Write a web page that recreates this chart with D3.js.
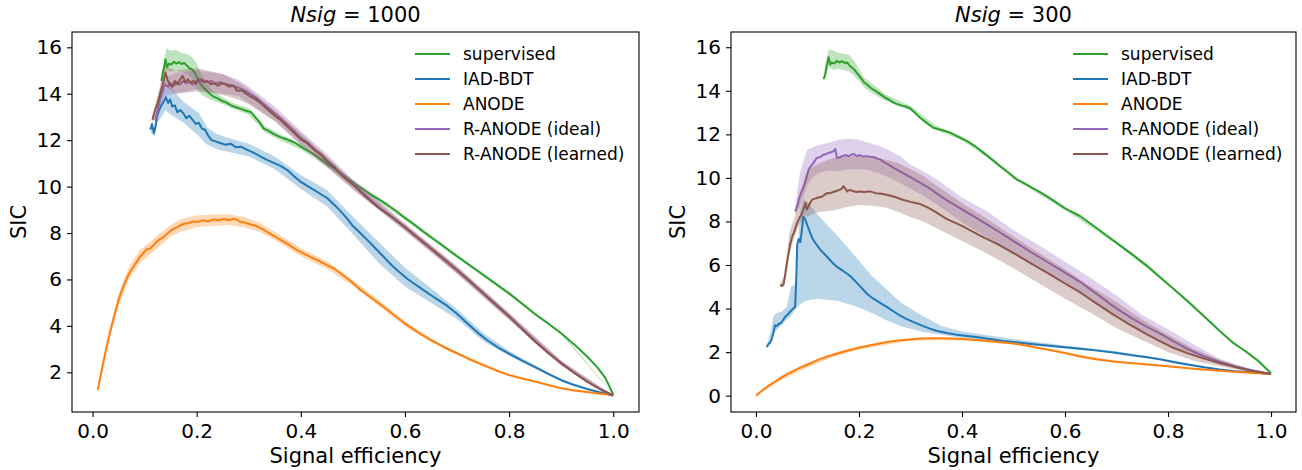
<!DOCTYPE html>
<html>
<head>
<meta charset="utf-8">
<script src="https://cdn.jsdelivr.net/npm/d3@7"></script>
<style>
  body { margin: 0; background: #fff; }
  svg { display: block; font-family: "DejaVu Sans", sans-serif; }
</style>
</head>
<body>
<div id="chart"></div>
<script>
// ---- data ----
var seriesNames = ["supervised", "IAD-BDT", "ANODE", "R-ANODE (ideal)", "R-ANODE (learned)"];
var seriesColors = ["#2ca02c", "#1f77b4", "#ff7f0e", "#9467bd", "#8c564b"];
var xTicks = [0, 0.2, 0.4, 0.6, 0.8, 1.0];
var yTicksLeft = [2, 4, 6, 8, 10, 12, 14, 16];
var yTicksRight = [0, 2, 4, 6, 8, 10, 12, 14, 16];
var titles = ["1000", "300"];

// Nsig = 1000 : lines [x, SIC], bands [x, low, high]
var supLine1000 = [[0.132,14.55],[0.135,14.9],[0.138,15.2],[0.140,15.49],[0.143,15.15],[0.147,15.3],[0.151,15.25],[0.156,15.38],[0.161,15.3],[0.166,15.36],[0.171,15.28],[0.176,15.33],[0.181,15.22],[0.186,15.1],[0.191,15.05],[0.196,14.92],[0.201,14.7],[0.206,14.45],[0.212,14.3],[0.218,14.15],[0.225,14.0],[0.232,13.88],[0.240,13.8],[0.248,13.7],[0.257,13.62],[0.266,13.5],[0.275,13.42],[0.285,13.35],[0.295,13.27],[0.305,13.2],[0.312,13.0],[0.320,12.8],[0.329,12.5],[0.338,12.4],[0.349,12.25],[0.362,12.12],[0.375,12.02],[0.388,11.9],[0.400,11.72],[0.413,11.55],[0.426,11.38],[0.440,11.15],[0.452,10.95],[0.465,10.78],[0.478,10.55],[0.490,10.35],[0.505,10.1],[0.520,9.88],[0.535,9.65],[0.550,9.45],[0.566,9.22],[0.583,8.95],[0.600,8.65],[0.617,8.38],[0.633,8.1],[0.650,7.82],[0.667,7.55],[0.683,7.28],[0.700,7.0],[0.725,6.6],[0.750,6.2],[0.775,5.8],[0.800,5.4],[0.825,4.95],[0.850,4.5],[0.875,4.1],[0.900,3.68],[0.925,3.2],[0.950,2.68],[0.970,2.2],[0.985,1.75],[1.000,1.05]];
var supBand1000 = [[0.132,14.35,14.75],[0.138,14.8,15.5],[0.142,15.0,15.95],[0.15,14.95,15.85],[0.16,15.0,15.9],[0.17,14.95,15.75],[0.18,14.9,15.72],[0.19,14.7,15.6],[0.2,14.2,15.3],[0.21,13.95,14.8],[0.222,13.8,14.35],[0.235,13.68,14.05],[0.25,13.55,13.85],[0.27,13.35,13.6],[0.3,13.1,13.38],[0.33,12.35,12.62],[0.36,12.0,12.25],[0.4,11.6,11.84],[0.5,10.1,10.3],[0.6,8.56,8.74],[0.7,6.92,7.08],[0.8,5.33,5.47],[0.9,3.63,3.73],[1.0,1.03,1.07]];
var bdtLine1000 = [[0.111,12.45],[0.114,12.7],[0.118,12.3],[0.121,12.6],[0.124,13.03],[0.128,13.3],[0.132,13.5],[0.137,13.68],[0.141,13.85],[0.145,13.6],[0.149,13.75],[0.153,13.45],[0.158,13.5],[0.163,13.2],[0.168,13.3],[0.174,13.17],[0.18,12.95],[0.186,13.05],[0.192,12.88],[0.198,12.7],[0.204,12.75],[0.21,12.5],[0.216,12.45],[0.222,12.2],[0.228,12.01],[0.236,11.95],[0.245,11.88],[0.255,11.8],[0.265,11.85],[0.275,11.7],[0.285,11.72],[0.297,11.58],[0.31,11.45],[0.322,11.3],[0.336,11.14],[0.35,11.0],[0.362,10.88],[0.374,10.71],[0.387,10.45],[0.4,10.2],[0.413,10.02],[0.426,9.85],[0.44,9.65],[0.451,9.5],[0.465,9.2],[0.478,8.9],[0.489,8.62],[0.5,8.3],[0.515,7.98],[0.53,7.65],[0.545,7.3],[0.56,6.95],[0.575,6.6],[0.59,6.3],[0.605,6.02],[0.62,5.78],[0.635,5.55],[0.65,5.32],[0.665,5.1],[0.68,4.88],[0.7,4.52],[0.72,4.1],[0.74,3.7],[0.76,3.35],[0.78,3.05],[0.8,2.8],[0.825,2.5],[0.85,2.22],[0.875,1.93],[0.9,1.66],[0.925,1.45],[0.95,1.28],[0.975,1.13],[1.0,1.0]];
var bdtBand1000 = [[0.111,12.35,12.55],[0.118,12.15,12.5],[0.124,12.75,13.3],[0.132,13.0,13.95],[0.14,13.3,14.25],[0.15,13.1,14.3],[0.16,12.95,14.0],[0.175,12.75,13.65],[0.19,12.45,13.4],[0.205,12.15,13.15],[0.22,11.8,12.55],[0.24,11.6,12.25],[0.26,11.5,12.1],[0.3,11.3,11.85],[0.35,10.75,11.3],[0.4,9.9,10.5],[0.45,9.15,9.85],[0.5,7.95,8.7],[0.55,6.7,7.6],[0.6,5.7,6.5],[0.65,5.0,5.62],[0.7,4.3,4.72],[0.75,3.35,3.7],[0.8,2.7,2.92],[0.85,2.15,2.3],[0.9,1.62,1.72],[0.95,1.26,1.31],[1.0,1.0,1.0]];
var anodeLine1000 = [[0.01,1.24],[0.015,1.8],[0.02,2.35],[0.025,2.9],[0.03,3.39],[0.035,3.85],[0.04,4.3],[0.045,4.72],[0.05,5.12],[0.056,5.5],[0.062,5.85],[0.068,6.15],[0.074,6.4],[0.08,6.6],[0.086,6.8],[0.092,7.0],[0.098,7.15],[0.104,7.3],[0.11,7.32],[0.116,7.45],[0.122,7.6],[0.128,7.72],[0.135,7.8],[0.142,7.95],[0.15,8.1],[0.158,8.2],[0.166,8.3],[0.175,8.4],[0.184,8.42],[0.193,8.5],[0.202,8.48],[0.212,8.55],[0.222,8.5],[0.232,8.58],[0.242,8.55],[0.252,8.6],[0.262,8.55],[0.272,8.62],[0.282,8.5],[0.292,8.45],[0.302,8.38],[0.315,8.3],[0.33,8.12],[0.345,7.92],[0.36,7.72],[0.375,7.52],[0.39,7.3],[0.405,7.12],[0.42,6.95],[0.435,6.8],[0.45,6.62],[0.465,6.45],[0.48,6.2],[0.496,5.92],[0.515,5.55],[0.53,5.3],[0.545,5.05],[0.56,4.8],[0.58,4.45],[0.6,4.1],[0.625,3.72],[0.65,3.39],[0.675,3.08],[0.7,2.82],[0.725,2.55],[0.75,2.31],[0.775,2.08],[0.8,1.88],[0.825,1.73],[0.85,1.6],[0.875,1.45],[0.9,1.31],[0.925,1.22],[0.95,1.15],[0.975,1.08],[1.0,1.02]];
var anodeBand1000 = [[0.01,1.15,1.33],[0.03,3.2,3.6],[0.05,4.85,5.4],[0.07,6.0,6.55],[0.09,6.7,7.25],[0.11,7.05,7.6],[0.13,7.45,8.0],[0.15,7.85,8.35],[0.17,8.05,8.6],[0.2,8.25,8.75],[0.23,8.3,8.8],[0.26,8.35,8.8],[0.29,8.25,8.7],[0.32,8.05,8.45],[0.35,7.7,8.05],[0.4,7.0,7.35],[0.45,6.45,6.78],[0.5,5.72,5.98],[0.55,4.85,5.1],[0.6,4.0,4.2],[0.65,3.31,3.47],[0.7,2.76,2.88],[0.8,1.84,1.92],[0.9,1.29,1.33],[1.0,1.01,1.03]];
var idealLine1000 = [[0.12,12.85],[0.124,13.2],[0.128,13.6],[0.132,13.95],[0.136,14.2],[0.14,14.4],[0.145,14.3],[0.15,14.45],[0.156,14.35],[0.162,14.5],[0.168,14.4],[0.174,14.55],[0.18,14.45],[0.186,14.5],[0.192,14.4],[0.198,14.55],[0.205,14.48],[0.212,14.6],[0.22,14.5],[0.228,14.55],[0.236,14.45],[0.245,14.5],[0.255,14.42],[0.265,14.38],[0.275,14.3],[0.285,14.22],[0.295,14.1],[0.305,13.95],[0.315,13.82],[0.326,13.6],[0.338,13.38],[0.35,13.15],[0.362,12.92],[0.374,12.68],[0.387,12.4],[0.4,12.1],[0.413,11.9],[0.426,11.62],[0.44,11.38],[0.451,11.12],[0.465,10.85],[0.478,10.55],[0.489,10.32],[0.505,10.02],[0.528,9.55],[0.55,9.12],[0.575,8.7],[0.6,8.25],[0.625,7.78],[0.65,7.32],[0.675,6.85],[0.7,6.4],[0.725,5.9],[0.75,5.42],[0.775,4.92],[0.8,4.42],[0.825,3.88],[0.85,3.35],[0.875,2.85],[0.9,2.4],[0.925,1.98],[0.95,1.6],[0.975,1.27],[1.0,1.0]];
var idealBand1000 = [[0.12,12.6,13.0],[0.13,13.4,14.05],[0.14,13.9,14.7],[0.16,14.0,14.9],[0.18,14.1,14.95],[0.2,14.2,15.0],[0.22,14.1,14.95],[0.25,14.0,14.85],[0.28,13.9,14.6],[0.3,13.6,14.3],[0.35,12.85,13.45],[0.4,11.8,12.4],[0.45,10.85,11.4],[0.5,9.9,10.3],[0.6,8.1,8.4],[0.7,6.25,6.55],[0.8,4.28,4.56],[0.9,2.3,2.5],[1.0,1.0,1.0]];
var learnedLine1000 = [[0.115,12.88],[0.12,13.3],[0.125,13.6],[0.131,14.12],[0.136,14.5],[0.14,14.91],[0.144,14.6],[0.148,14.41],[0.153,14.3],[0.158,14.55],[0.163,14.4],[0.168,14.6],[0.173,14.77],[0.178,14.5],[0.183,14.62],[0.188,14.48],[0.193,14.55],[0.198,14.42],[0.203,14.6],[0.208,14.62],[0.214,14.5],[0.22,14.55],[0.227,14.41],[0.234,14.45],[0.241,14.35],[0.248,14.45],[0.255,14.41],[0.262,14.3],[0.27,14.35],[0.278,14.12],[0.286,14.15],[0.295,14.0],[0.303,13.88],[0.31,13.8],[0.32,13.65],[0.336,13.32],[0.35,13.05],[0.362,12.85],[0.374,12.59],[0.387,12.32],[0.4,12.03],[0.413,11.85],[0.426,11.58],[0.44,11.33],[0.451,11.07],[0.465,10.8],[0.478,10.5],[0.489,10.28],[0.505,9.98],[0.528,9.5],[0.55,9.08],[0.575,8.68],[0.6,8.25],[0.625,7.8],[0.65,7.34],[0.675,6.88],[0.7,6.41],[0.725,5.92],[0.75,5.4],[0.775,4.9],[0.8,4.4],[0.825,3.86],[0.85,3.32],[0.875,2.83],[0.9,2.39],[0.925,1.97],[0.95,1.6],[0.975,1.27],[1.0,1.0]];
var learnedBand1000 = [[0.115,12.7,13.05],[0.13,13.7,14.4],[0.14,14.3,15.2],[0.16,14.0,15.0],[0.18,14.05,15.05],[0.2,14.1,15.1],[0.22,14.05,15.0],[0.25,13.95,14.85],[0.28,13.75,14.5],[0.3,13.55,14.2],[0.35,12.8,13.3],[0.4,11.8,12.3],[0.45,10.85,11.3],[0.5,9.88,10.25],[0.6,8.1,8.4],[0.7,6.25,6.58],[0.8,4.25,4.55],[0.9,2.28,2.5],[1.0,1.0,1.0]];

// Nsig = 300
var supLine300 = [[0.131,14.54],[0.134,14.7],[0.137,15.1],[0.141,15.54],[0.144,15.2],[0.147,15.3],[0.152,15.25],[0.157,15.38],[0.162,15.3],[0.167,15.36],[0.172,15.28],[0.177,15.3],[0.182,15.15],[0.187,15.05],[0.19,15.0],[0.195,14.85],[0.2,14.7],[0.205,14.55],[0.21,14.38],[0.215,14.3],[0.222,14.15],[0.228,14.05],[0.235,13.95],[0.241,13.85],[0.25,13.7],[0.258,13.6],[0.267,13.46],[0.275,13.38],[0.283,13.32],[0.291,13.28],[0.299,13.2],[0.308,13.0],[0.318,12.77],[0.33,12.55],[0.344,12.3],[0.36,12.2],[0.377,12.08],[0.393,11.88],[0.41,11.69],[0.426,11.45],[0.442,11.15],[0.458,10.85],[0.474,10.54],[0.49,10.25],[0.507,9.92],[0.525,9.7],[0.54,9.5],[0.555,9.3],[0.572,9.05],[0.6,8.6],[0.629,8.25],[0.66,7.72],[0.694,7.12],[0.73,6.5],[0.76,5.95],[0.784,5.45],[0.81,4.92],[0.84,4.3],[0.87,3.65],[0.9,2.98],[0.925,2.45],[0.95,2.05],[0.975,1.6],[1.0,1.03]];
var supBand300 = [[0.131,14.4,14.7],[0.137,14.8,15.5],[0.141,15.1,15.9],[0.15,14.95,15.85],[0.16,15.0,15.75],[0.17,14.95,15.7],[0.18,14.9,15.65],[0.19,14.7,15.4],[0.2,14.45,15.0],[0.21,14.15,14.6],[0.225,13.9,14.35],[0.25,13.55,13.85],[0.3,13.1,13.3],[0.35,12.2,12.4],[0.4,11.72,11.9],[0.45,10.92,11.08],[0.5,9.95,10.1],[0.6,8.53,8.67],[0.7,6.96,7.08],[0.8,5.07,5.17],[0.9,2.94,3.02],[1.0,1.02,1.04]];
var bdtLine300 = [[0.021,2.23],[0.025,2.4],[0.028,2.45],[0.031,2.62],[0.034,2.9],[0.037,3.23],[0.041,3.2],[0.044,3.3],[0.047,3.31],[0.052,3.45],[0.056,3.6],[0.06,3.69],[0.065,3.82],[0.07,3.95],[0.076,4.08],[0.078,5.2],[0.08,6.92],[0.083,7.2],[0.086,7.05],[0.088,7.4],[0.09,7.8],[0.092,8.23],[0.096,8.08],[0.1,7.8],[0.105,7.5],[0.11,7.2],[0.118,6.92],[0.125,6.7],[0.131,6.55],[0.138,6.38],[0.148,6.12],[0.158,5.9],[0.168,5.75],[0.177,5.6],[0.185,5.45],[0.195,5.2],[0.205,4.95],[0.215,4.69],[0.225,4.5],[0.235,4.35],[0.245,4.2],[0.254,4.08],[0.265,3.9],[0.275,3.75],[0.29,3.55],[0.306,3.38],[0.319,3.25],[0.335,3.1],[0.35,2.98],[0.37,2.88],[0.39,2.8],[0.41,2.74],[0.435,2.67],[0.46,2.58],[0.48,2.51],[0.5,2.46],[0.53,2.38],[0.565,2.3],[0.6,2.22],[0.63,2.15],[0.66,2.08],[0.694,1.98],[0.73,1.86],[0.76,1.76],[0.784,1.67],[0.81,1.55],[0.84,1.42],[0.87,1.3],[0.9,1.2],[0.93,1.12],[0.96,1.07],[1.0,1.0]];
var bdtBand300 = [[0.021,2.18,2.28],[0.028,2.4,2.9],[0.034,2.8,3.65],[0.04,3.0,3.8],[0.05,3.25,3.85],[0.06,3.5,4.1],[0.068,3.65,5.0],[0.076,3.95,5.1],[0.08,4.05,6.5],[0.086,4.2,8.5],[0.092,4.3,9.0],[0.1,4.38,8.9],[0.12,4.45,8.3],[0.16,4.35,7.3],[0.2,4.05,6.2],[0.225,3.8,5.5],[0.25,3.5,4.95],[0.28,3.2,4.3],[0.32,2.95,3.7],[0.36,2.8,3.2],[0.4,2.65,2.95],[0.45,2.52,2.78],[0.5,2.4,2.6],[0.6,2.17,2.3],[0.7,1.94,2.04],[0.8,1.58,1.66],[0.9,1.18,1.23],[1.0,1.0,1.0]];
var anodeLine300 = [[0.0,0.0],[0.01,0.2],[0.02,0.38],[0.03,0.54],[0.045,0.76],[0.06,0.98],[0.08,1.22],[0.1,1.42],[0.125,1.69],[0.15,1.88],[0.175,2.05],[0.2,2.2],[0.225,2.33],[0.254,2.46],[0.28,2.54],[0.3,2.58],[0.319,2.62],[0.338,2.64],[0.36,2.64],[0.38,2.62],[0.4,2.6],[0.435,2.55],[0.47,2.47],[0.5,2.4],[0.532,2.27],[0.565,2.12],[0.6,1.96],[0.629,1.8],[0.66,1.67],[0.694,1.57],[0.726,1.5],[0.76,1.43],[0.8,1.35],[0.85,1.24],[0.9,1.14],[0.95,1.06],[1.0,1.0]];
var anodeBand300 = [[0.0,0.0,0.0],[0.05,0.72,0.95],[0.1,1.3,1.52],[0.15,1.78,1.97],[0.2,2.12,2.28],[0.3,2.52,2.64],[0.4,2.55,2.65],[0.5,2.36,2.44],[0.6,1.92,2.0],[0.7,1.53,1.59],[0.8,1.33,1.37],[0.9,1.13,1.15],[1.0,1.0,1.0]];
var idealLine300 = [[0.076,8.46],[0.08,8.7],[0.083,9.0],[0.087,9.3],[0.091,9.5],[0.095,9.75],[0.098,10.0],[0.102,10.38],[0.107,10.55],[0.112,10.7],[0.118,10.92],[0.124,10.95],[0.13,11.05],[0.136,11.1],[0.142,11.15],[0.148,11.2],[0.151,11.23],[0.154,11.34],[0.157,10.92],[0.162,10.95],[0.168,11.0],[0.174,11.05],[0.18,11.0],[0.186,11.08],[0.19,11.1],[0.196,11.0],[0.202,11.05],[0.208,10.98],[0.215,11.0],[0.222,10.97],[0.23,10.95],[0.236,10.88],[0.241,10.85],[0.25,10.7],[0.258,10.6],[0.267,10.46],[0.28,10.3],[0.293,10.12],[0.306,9.95],[0.319,9.77],[0.335,9.55],[0.35,9.3],[0.37,8.98],[0.4,8.55],[0.435,8.06],[0.47,7.55],[0.5,7.1],[0.532,6.62],[0.565,6.15],[0.6,5.65],[0.629,5.23],[0.66,4.7],[0.694,4.1],[0.73,3.55],[0.76,3.15],[0.784,2.86],[0.81,2.5],[0.84,2.12],[0.87,1.8],[0.9,1.56],[0.93,1.35],[0.96,1.18],[1.0,1.0]];
var idealBand300 = [[0.076,8.3,8.7],[0.085,8.7,10.2],[0.095,9.3,11.0],[0.1,9.7,11.3],[0.11,10.0,11.4],[0.12,10.2,11.5],[0.14,10.35,11.6],[0.16,10.3,11.75],[0.18,10.4,11.8],[0.2,10.4,11.75],[0.22,10.35,11.6],[0.24,10.2,11.45],[0.26,10.0,11.25],[0.28,9.75,11.0],[0.3,9.5,10.6],[0.32,9.25,10.38],[0.35,8.8,9.95],[0.4,7.95,9.1],[0.45,7.25,8.45],[0.5,6.55,7.6],[0.55,5.85,6.9],[0.6,5.1,6.15],[0.65,4.4,5.4],[0.7,3.65,4.6],[0.75,2.9,3.7],[0.8,2.35,3.05],[0.85,1.85,2.35],[0.9,1.42,1.7],[0.95,1.17,1.3],[1.0,1.0,1.0]];
var learnedLine300 = [[0.047,5.08],[0.051,5.05],[0.054,5.15],[0.057,5.6],[0.06,6.08],[0.063,6.5],[0.066,6.9],[0.07,7.3],[0.074,7.5],[0.078,7.8],[0.082,8.05],[0.086,8.23],[0.09,8.4],[0.093,8.6],[0.096,8.85],[0.099,8.54],[0.104,8.8],[0.109,9.0],[0.115,9.05],[0.12,9.1],[0.126,9.12],[0.132,9.2],[0.138,9.31],[0.144,9.3],[0.15,9.35],[0.156,9.4],[0.162,9.45],[0.166,9.5],[0.17,9.62],[0.174,9.5],[0.177,9.38],[0.182,9.45],[0.188,9.4],[0.195,9.35],[0.202,9.38],[0.21,9.35],[0.222,9.38],[0.232,9.3],[0.241,9.28],[0.254,9.23],[0.27,9.12],[0.285,9.0],[0.3,8.9],[0.319,8.8],[0.335,8.62],[0.35,8.42],[0.37,8.12],[0.4,7.8],[0.435,7.35],[0.47,6.95],[0.5,6.55],[0.532,6.1],[0.565,5.65],[0.6,5.15],[0.629,4.75],[0.66,4.25],[0.694,3.72],[0.73,3.2],[0.76,2.8],[0.784,2.5],[0.81,2.2],[0.84,1.93],[0.87,1.7],[0.9,1.5],[0.93,1.32],[0.96,1.16],[1.0,1.0]];
var learnedBand300 = [[0.047,4.98,5.18],[0.055,5.0,5.5],[0.065,6.5,7.5],[0.075,7.3,8.2],[0.085,7.9,9.2],[0.095,8.3,10.1],[0.1,8.2,10.3],[0.11,8.35,10.5],[0.125,8.45,10.7],[0.15,8.5,10.9],[0.175,8.65,11.0],[0.2,8.75,11.0],[0.225,8.72,10.95],[0.25,8.65,10.85],[0.275,8.45,10.7],[0.3,8.2,10.4],[0.325,8.0,10.1],[0.35,7.7,9.65],[0.4,7.1,8.85],[0.45,6.5,8.1],[0.5,5.85,7.3],[0.55,5.15,6.55],[0.6,4.45,5.8],[0.65,3.8,5.0],[0.7,3.1,4.3],[0.75,2.55,3.5],[0.8,2.0,2.8],[0.85,1.6,2.15],[0.9,1.35,1.65],[0.95,1.12,1.25],[1.0,1.0,1.0]];

var lines1000 = [supLine1000, bdtLine1000, anodeLine1000, idealLine1000, learnedLine1000];
var bands1000 = [supBand1000, bdtBand1000, anodeBand1000, idealBand1000, learnedBand1000];
var lines300 = [supLine300, bdtLine300, anodeLine300, idealLine300, learnedLine300];
var bands300 = [supBand300, bdtBand300, anodeBand300, idealBand300, learnedBand300];

// ---- layout ----
var W = 1302, H = 470;
var svg = d3.select("#chart").append("svg")
    .attr("width", W)
    .attr("height", H);

var panels = [
  {left: 72, right: 639, top: 32, bottom: 412, xdom: [-0.0395, 1.0495], ydom: [0.29, 16.66],
   yTicks: yTicksLeft, lines: lines1000, bands: bands1000, title: titles[0], ylabX: 26, legX: 415},
  {left: 731, right: 1296, top: 32, bottom: 412, xdom: [-0.0485, 1.0485], ydom: [-0.75, 16.70],
   yTicks: yTicksRight, lines: lines300, bands: bands300, title: titles[1], ylabX: 685, legX: 1073}
];

panels.forEach(function(p) {
  var x = d3.scaleLinear().domain(p.xdom).range([p.left, p.right]);
  var y = d3.scaleLinear().domain(p.ydom).range([p.bottom, p.top]);
  var g = svg.append("g");

  var area = d3.area()
      .x(function(d) { return x(d[0]); })
      .y0(function(d) { return y(d[1]); })
      .y1(function(d) { return y(d[2]); });
  var line = d3.line()
      .x(function(d) { return x(d[0]); })
      .y(function(d) { return y(d[1]); });

  seriesNames.forEach(function(name, i) {
    g.append("path")
      .attr("d", area(p.bands[i]))
      .attr("fill", seriesColors[i])
      .attr("fill-opacity", 0.3)
      .attr("stroke", "none");
    g.append("path")
      .attr("d", line(p.lines[i]))
      .attr("fill", "none")
      .attr("stroke", seriesColors[i])
      .attr("stroke-width", 2)
      .attr("stroke-linejoin", "round");
  });

  // axes
  var xAxis = g.append("g")
    .attr("transform", "translate(0," + p.bottom + ")")
    .call(d3.axisBottom(x).tickValues(xTicks).tickFormat(d3.format(".1f")).tickSize(5).tickPadding(7));
  var yAxis = g.append("g")
    .attr("transform", "translate(" + p.left + ",0)")
    .call(d3.axisLeft(y).tickValues(p.yTicks).tickFormat(d3.format("d")).tickSize(5).tickPadding(5));
  [xAxis, yAxis].forEach(function(a) {
    a.select(".domain").remove();
    a.selectAll("line").attr("stroke", "#000").attr("stroke-width", 1.1);
    a.selectAll("text").attr("font-size", 20).attr("fill", "#000")
      .attr("font-family", "DejaVu Sans");
  });

  g.append("rect")
    .attr("x", p.left).attr("y", p.top)
    .attr("width", p.right - p.left).attr("height", p.bottom - p.top)
    .attr("fill", "none").attr("stroke", "#000").attr("stroke-width", 1.1);

  // labels
  var cx = (p.left + p.right) / 2;
  g.append("text")
    .attr("x", cx).attr("y", 463)
    .attr("text-anchor", "middle").attr("font-size", 21)
    .text("Signal efficiency");
  g.append("text")
    .attr("transform", "translate(" + p.ylabX + "," + ((p.top + p.bottom) / 2) + ") rotate(-90)")
    .attr("text-anchor", "middle").attr("font-size", 21)
    .text("SIC");
  var t = g.append("text")
    .attr("x", cx).attr("y", 22)
    .attr("text-anchor", "middle").attr("font-size", 21);
  t.append("tspan").attr("font-style", "italic").text("Nsig");
  t.append("tspan").text(" = " + p.title);

  // legend
  var leg = g.append("g").selectAll("g")
    .data(seriesNames)
    .enter().append("g")
      .attr("transform", function(d, i) { return "translate(" + p.legX + "," + (54 + i * 25) + ")"; });
  leg.append("line")
    .attr("x1", 0).attr("x2", 35)
    .attr("stroke", function(d, i) { return seriesColors[i]; })
    .attr("stroke-width", 2);
  leg.append("text")
    .attr("x", 48)
    .attr("dy", "0.35em")
    .attr("font-size", 17)
    .text(function(d) { return d; });
});
</script>
</body>
</html>
